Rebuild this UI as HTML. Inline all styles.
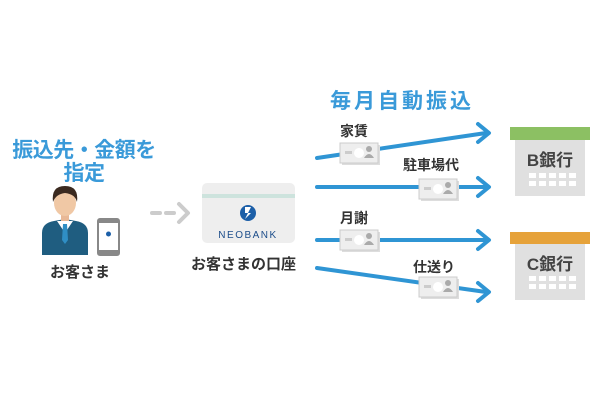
<!DOCTYPE html>
<html><head><meta charset="utf-8"><style>
body{margin:0;width:600px;height:400px;background:#fff;overflow:hidden;position:relative;font-family:"Liberation Sans","Noto Sans CJK JP",sans-serif}
.t{position:absolute;white-space:nowrap}
.blue{color:#3a9ad9;font-weight:bold}
.dk{color:#333;font-weight:bold}
</style></head><body>
<svg width="600" height="400" style="position:absolute;left:0;top:0">
<defs>
<g id="bill"><rect x="0" y="0" width="38" height="20" fill="#ddd"/><rect x="-2" y="-2" width="38" height="20" fill="#eee" stroke="#ccc" stroke-width="1"/><rect x="3" y="6" width="7" height="3" fill="#ccc"/><circle cx="17" cy="8" r="5" fill="#fff"/><circle cx="27" cy="4" r="3" fill="#aaa"/><path d="M22 13 q5-8 10 0z" fill="#aaa"/></g>
</defs>
<g stroke="#2f95d4" stroke-width="4" fill="none" stroke-linecap="round" stroke-linejoin="round">
<line x1="317" y1="158" x2="486" y2="133"/><polyline points="478,124 489,133 478,142"/>
<line x1="317" y1="187" x2="486" y2="187"/><polyline points="478,178 489,187 478,196"/>
<line x1="317" y1="240" x2="486" y2="240"/><polyline points="478,231 489,240 478,249"/>
<line x1="317" y1="268" x2="486" y2="292"/><polyline points="478,283 489,292 478,301"/>
</g>
<use href="#bill" x="342" y="145"/>
<use href="#bill" x="421" y="181"/>
<use href="#bill" x="342" y="232"/>
<use href="#bill" x="421" y="279"/>
<rect x="510" y="127" width="80" height="13" fill="#8cc063"/>
<rect x="515" y="140" width="70" height="56" fill="#e0e0e0"/>
<rect x="510" y="232" width="80" height="12" fill="#e6a23a"/>
<rect x="515" y="244" width="70" height="56" fill="#e0e0e0"/>
<g fill="#fff">
<rect x="529" y="173" width="7" height="5"/><rect x="539" y="173" width="7" height="5"/><rect x="549" y="173" width="7" height="5"/><rect x="559" y="173" width="7" height="5"/><rect x="569" y="173" width="7" height="5"/>
<rect x="529" y="181" width="7" height="5"/><rect x="539" y="181" width="7" height="5"/><rect x="549" y="181" width="7" height="5"/><rect x="559" y="181" width="7" height="5"/><rect x="569" y="181" width="7" height="5"/>
<rect x="529" y="276" width="7" height="5"/><rect x="539" y="276" width="7" height="5"/><rect x="549" y="276" width="7" height="5"/><rect x="559" y="276" width="7" height="5"/><rect x="569" y="276" width="7" height="5"/>
<rect x="529" y="284" width="7" height="5"/><rect x="539" y="284" width="7" height="5"/><rect x="549" y="284" width="7" height="5"/><rect x="559" y="284" width="7" height="5"/><rect x="569" y="284" width="7" height="5"/>
</g>
<g stroke="#ccc" stroke-width="4" fill="none" stroke-linecap="round">
<line x1="152" y1="213" x2="160" y2="213"/><line x1="166" y1="213" x2="174" y2="213"/>
<polyline points="179,204 188,213 179,222" stroke-linejoin="round"/>
</g>
<rect x="202" y="183" width="93" height="60" rx="5" fill="#eeeeee"/>
<rect x="202" y="194" width="93" height="4" fill="#cde3dd"/>
<circle cx="248" cy="213" r="8" fill="#1c5fa8"/>
<path d="M245 207 h6 l-3 6 h3 l-6 6 l3 -6 h-3z" fill="#fff"/>
<text x="248" y="238" text-anchor="middle" font-family="Liberation Sans" font-size="10" fill="#1c4d8a" letter-spacing="1.5">NEOBANK</text>
<path d="M42 255 v-22 q0-10 12-12 l11-2 l11 2 q12 2 12 12 v22z" fill="#1f5d80"/>
<path d="M57 221 l8 12 l8 -12z" fill="#fff"/>
<path d="M63 224 h4 l1 16 l-3 4 l-3 -4z" fill="#2f8ec4"/>
<rect x="61" y="212" width="8" height="9" fill="#e8b896"/>
<ellipse cx="65" cy="203" rx="11" ry="13" fill="#f0c8a5"/>
<path d="M53 202 q-2-16 12-16 q14 0 12 16 q-2-8 -12-9 q-9 1 -12 9z" fill="#3b2a20"/>
<rect x="97" y="218" width="23" height="38" rx="3" fill="#888"/>
<rect x="99" y="223" width="19" height="27" fill="#fff"/>
<circle cx="108.5" cy="234" r="2.5" fill="#1c5fa8"/>
</svg>
<div class="t blue" style="left:330px;top:85px;font-size:21px;letter-spacing:3px">毎月自動振込</div>
<div class="t blue" style="left:4px;top:139px;font-size:21px;width:160px;text-align:center;line-height:23px;letter-spacing:-0.5px">振込先・金額を<br>指定</div>
<div class="t dk" style="left:340px;top:121px;font-size:14px">家賃</div>
<div class="t dk" style="left:403px;top:155px;font-size:14px">駐車場代</div>
<div class="t dk" style="left:340px;top:208px;font-size:14px">月謝</div>
<div class="t dk" style="left:413px;top:257px;font-size:14px">仕送り</div>
<div class="t dk" style="left:520px;top:146px;width:60px;text-align:center;font-size:17px;color:#444">B銀行</div>
<div class="t dk" style="left:520px;top:250px;width:60px;text-align:center;font-size:17px;color:#444">C銀行</div>
<div class="t dk" style="left:50px;top:261px;font-size:15px">お客さま</div>
<div class="t dk" style="left:191px;top:253px;font-size:15px">お客さまの口座</div>
</body></html>
